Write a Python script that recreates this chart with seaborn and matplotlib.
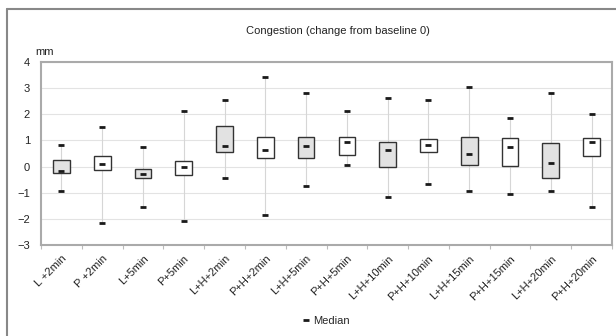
import numpy as np
import pandas as pd
import matplotlib
matplotlib.use("Agg")
import matplotlib.pyplot as plt
import matplotlib.transforms as mtransforms
import seaborn as sns
from matplotlib.lines import Line2D

categories = ["L +2min", "P +2min", "L+5min", "P+5min", "L+H+2min", "P+H+2min",
              "L+H+5min", "P+H+5min", "L+H+10min", "P+H+10min", "L+H+15min",
              "P+H+15min", "L+H+20min", "P+H+20min"]
maxv = [0.83, 1.53, 0.76, 2.14, 2.56, 3.44, 2.83, 2.14, 2.62, 2.56, 3.06, 1.87, 2.83, 2.01]
box_top = [0.25, 0.41, -0.08, 0.20, 1.54, 1.14, 1.14, 1.14, 0.95, 1.05, 1.14, 1.09, 0.91, 1.09]
box_bot = [-0.25, -0.12, -0.44, -0.33, 0.54, 0.33, 0.33, 0.45, -0.02, 0.54, 0.07, 0.01, -0.45, 0.41]
median = [-0.17, 0.11, -0.28, 0.00, 0.77, 0.64, 0.77, 0.95, 0.64, 0.84, 0.47, 0.76, 0.15, 0.95]
minv = [-0.95, -2.14, -1.54, -2.08, -0.45, -1.86, -0.76, 0.06, -1.16, -0.67, -0.95, -1.05, -0.95, -1.54]

sns.set_theme(style="white")
plt.rcParams['font.family'] = ['Liberation Sans', 'DejaVu Sans']

n = len(categories)
pos = np.arange(n)
df = pd.DataFrame({"pos": pos, "cat": categories, "max": maxv, "top": box_top,
                   "bot": box_bot, "median": median, "min": minv})

fig = plt.figure(figsize=(6.16, 3.36), dpi=100)
ax = fig.add_axes([41/616, 1-245/336, 571/616, 183/336])

# grid
for yv in range(-3, 5):
    ax.axhline(yv, color="#e3e3e3", lw=0.8, zorder=0)

# whiskers
ax.vlines(df["pos"], df["min"], df["max"], color="#d6d6d6", lw=0.8, zorder=1)

# boxes
fills = ["#e2e2e2" if c.startswith("L") else "white" for c in categories]
ax.bar(df["pos"], df["top"] - df["bot"], bottom=df["bot"], width=0.41,
       color=fills, edgecolor="#333333", linewidth=1.0, zorder=2)

# markers
long = pd.concat([
    pd.DataFrame({"pos": pos, "val": df["max"]}),
    pd.DataFrame({"pos": pos, "val": df["min"]}),
    pd.DataFrame({"pos": pos, "val": df["median"]}),
])
sns.scatterplot(data=long, x="pos", y="val", marker="_", s=18, linewidth=2,
                color="#1a1a1a", ax=ax, zorder=3, legend=False)

ax.set_xlim(-0.5, n - 0.5)
ax.set_ylim(-3, 4)
ax.set_yticks(range(-3, 5))
ax.set_xticks(pos)
ax.set_xticklabels(categories, rotation=45, ha="right", rotation_mode="anchor",
                   fontsize=8, color="#222222")
offset = mtransforms.ScaledTranslation(-4/100, -3/100, fig.dpi_scale_trans)
for lab in ax.get_xticklabels():
    lab.set_transform(lab.get_transform() + offset)
ax.set_xticks(np.arange(-0.5, n, 1.0), minor=True)
ax.tick_params(axis="x", which="major", length=0, pad=6)
ax.tick_params(axis="x", which="minor", length=3, color="#bbbbbb", width=0.8, direction="out", bottom=True)
ax.tick_params(axis="y", length=0, pad=8, labelsize=8, labelcolor="#222222")
ax.set_xlabel("")
ax.set_ylabel("")
for s in ax.spines.values():
    s.set_color("#aaaaaa")
    s.set_linewidth(1.5)
    s.set_visible(True)

fig.text(338/616, 1-31/336, "Congestion (change from baseline 0)", ha="center", va="center",
         fontsize=8, color="#222222")
fig.text(35/616, 1-52/336, "mm", ha="left", va="center", fontsize=8, color="#222222")

handle = Line2D([], [], marker="_", color="#1a1a1a", linestyle="none", markersize=4.5, markeredgewidth=2)
fig.legend([handle], ["Median"], loc="center", bbox_to_anchor=(325/616, 1-321/336),
           frameon=False, fontsize=8, handletextpad=0.2, handlelength=1.0)

# outer frame
fig.add_artist(Line2D([7/616, 7/616], [0, 1-9/336], transform=fig.transFigure, color="#888888", lw=1.5))
fig.add_artist(Line2D([7/616, 1], [1-9/336, 1-9/336], transform=fig.transFigure, color="#888888", lw=1.5))

fig.savefig("out.png", dpi=100)
